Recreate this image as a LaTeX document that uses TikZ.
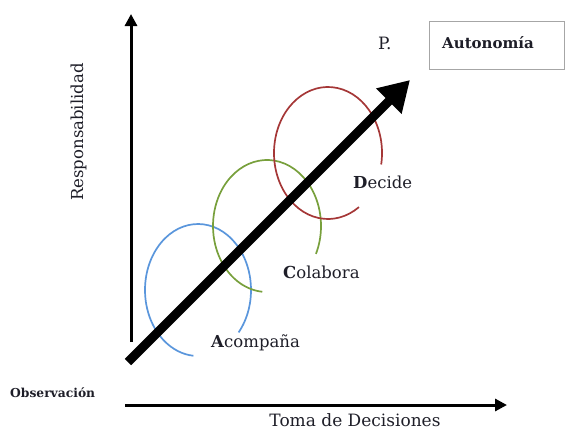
\documentclass[tikz,border=0pt]{standalone}
\usepackage{fontspec}
\setmainfont{DejaVu Serif}
\usetikzlibrary{arrows.meta}
\definecolor{cblue}{RGB}{90,150,220}
\definecolor{cgreen}{RGB}{120,160,60}
\definecolor{cred}{RGB}{165,55,55}
\definecolor{ink}{RGB}{30,30,40}
\begin{document}
\begin{tikzpicture}[x=1pt,y=-1pt,
  axis/.style={line width=3pt,-{Triangle[length=12pt,width=12pt]}},
  growth/.style={line width=9pt,-{Triangle[length=30pt,width=34pt]}},
  ring/.style={line width=1.7pt},
  stage/.style={font=\fontsize{16.5}{18}\selectfont,text=ink,inner sep=0pt,anchor=base west},
  lbl/.style={text=ink,inner sep=0pt}]
\useasboundingbox (0,0) rectangle (567,429);
% axes
\coordinate (vbot) at (131,342);
\coordinate (vtop) at (131,14);
\coordinate (hleft) at (125,405);
\coordinate (hright) at (507,405);
\draw[axis] (vbot) -- (vtop);
\draw[axis] (hleft) -- (hright);
% stage rings (y axis points down, so angles run clockwise on the page)
\draw[ring,cblue]  (198,290) ++(40:53 and 66) arc[start angle=40,end angle=-265,x radius=53,y radius=66];
\draw[ring,cgreen] (267,226) ++(25:54 and 66) arc[start angle=25,end angle=-265,x radius=54,y radius=66];
\draw[ring,cred]   (328,153) ++(10:54 and 66) arc[start angle=10,end angle=-305,x radius=54,y radius=66];
% growth arrow
\coordinate (gstart) at (128,362);
\coordinate (gend) at (410,80);
\draw[growth] (gstart) -- (gend);
% labels
\node[lbl,rotate=90,anchor=base,font=\fontsize{16.5}{18}\selectfont] (resp) at (83,132) {Responsabilidad};
\node[lbl,anchor=base west,font=\fontsize{17}{19}\selectfont] (p) at (378,49) {P.};
\node[draw=gray!70,line width=1pt,minimum width=135pt,minimum height=48pt,anchor=north west,inner sep=0pt] (box) at (429,21) {};
\node[lbl,anchor=base west,font=\bfseries\fontsize{15}{17}\selectfont] (auto) at (442,48) {Autonomía};
\node[stage] (dec) at (353,188) {\textbf{D}ecide};
\node[stage] (col) at (283,278) {\textbf{C}olabora};
\node[stage] (aco) at (211,347) {\textbf{A}compaña};
\node[lbl,anchor=base west,font=\bfseries\fontsize{12.3}{14}\selectfont] (obs) at (10,397) {Observación};
\node[lbl,anchor=base,text depth=0pt,font=\fontsize{17}{19}\selectfont] (toma) at (355,426) {Toma de Decisiones};
\end{tikzpicture}
\end{document}
